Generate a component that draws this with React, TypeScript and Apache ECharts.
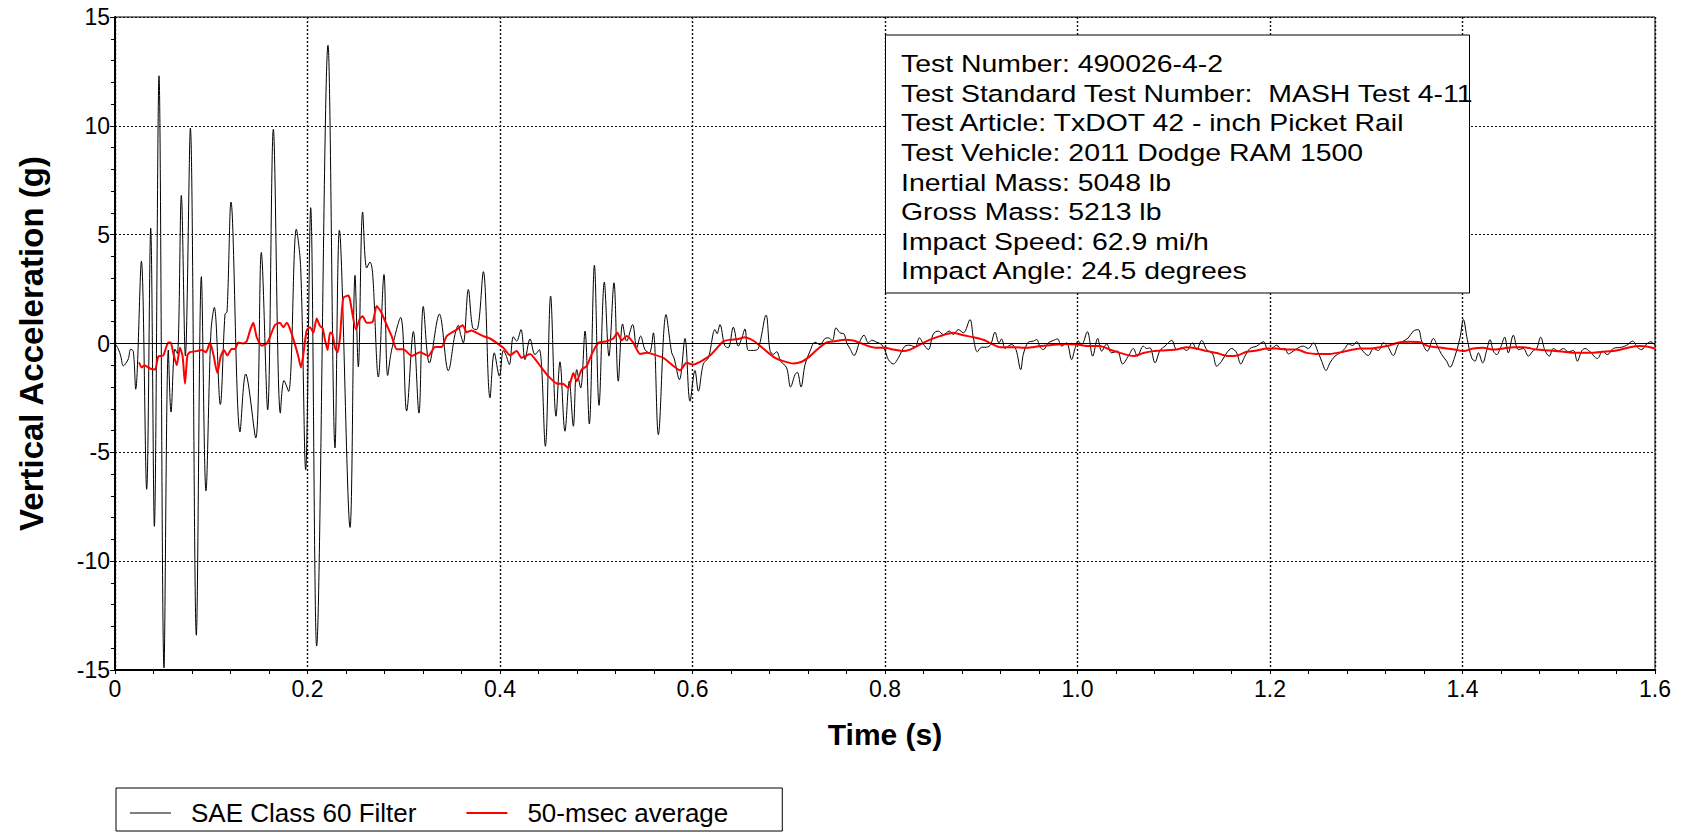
import React, { useEffect, useRef } from "react";
import * as echarts from "echarts";

const FONT = '"Liberation Sans", Arial, Helvetica, sans-serif';

// ---- SAE Class 60 filtered vertical acceleration (time s, accel g) ----
const sae60Part1: [number, number][] = [
  [0, 0], [0.0035, -0.26], [0.0059, -0.57], [0.0087, -1.03], [0.0114, -0.9], [0.0139, -0.7],
  [0.0163, -0.26], [0.019, -0.36], [0.0215, -2.1], [0.0274, 3.78], [0.0329, -6.7], [0.0371, 5.3],
  [0.0409, -8.4], [0.0457, 12.3], [0.0509, -14.9], [0.0554, -0.3], [0.0582, -3.15], [0.0623, -0.26],
  [0.0648, -0.46], [0.0689, 6.8], [0.0731, -0.57], [0.0783, 9.9], [0.0845, -13.4], [0.0897, 3.07],
  [0.0945, -6.77], [0.0997, 0.55], [0.1032, 1.66], [0.1094, -2.8], [0.1143, 1.35], [0.1164, 1.45],
  [0.1205, 6.5],
];
const sae60Part2: [number, number][] = [
  [0.1299, -4.06], [0.1358, -1.4], [0.1462, -4.34], [0.152, 4.18], [0.1586, -3.05], [0.1645, 9.84],
  [0.1718, -3.2], [0.1756, -1.7], [0.1804, -2.2], [0.1884, 5.25], [0.1929, 3.5], [0.1981, -5.8],
  [0.2033, 6.24], [0.2095, -13.9], [0.2213, 13.7], [0.2286, -4.8], [0.2331, 5.2], [0.2442, -8.45],
  [0.2494, 3.13], [0.2528, -1.07], [0.2573, 6.04], [0.2615, 3.47], [0.2649, 3.74], [0.2677, 3.2],
  [0.2736, -1.54], [0.2795, 3.17], [0.2833, -1.47], [0.2874, -0.3], [0.2968, 1.2], [0.303, -3.1],
  [0.31, 0.55], [0.3158, -3.2], [0.3203, 1.7], [0.3266, -0.9], [0.337, 1.35], [0.3463, -1.25],
];
const sae60Part3: [number, number][] = [
  [0.3532, 0.41], [0.3567, 0.84], [0.3591, 0.41], [0.3619, 0.03], [0.3671, 2.48], [0.3716, 0.72],
  [0.3758, 0.64], [0.3827, 3.3], [0.3896, -2.5], [0.3941, -0.43], [0.3994, -1.5], [0.4035, -0.32],
  [0.4063, -0.54], [0.4097, -0.97], [0.4139, 0.31], [0.4173, 0.11], [0.4218, 0.64], [0.426, -0.74],
  [0.4312, 0.21], [0.4364, -0.51], [0.4409, -0.28], [0.4471, -4.72], [0.4526, 2.18], [0.4582, -3.34],
  [0.4623, -0.84], [0.4675, -4.03], [0.472, -1.73], [0.4762, -3.8], [0.4797, -1.2], [0.4838, -2.04],
  [0.4883, 0.57], [0.4928, -3.7], [0.4981, 3.6], [0.5029, -2.84], [0.5084, 2.82], [0.5132, -0.58],
  [0.5184, 2.79], [0.5229, -1.73], [0.5274, 0.9], [0.5316, 0.11], [0.5378, 0.87], [0.542, -0.2],
  [0.5461, 0.34], [0.5506, -0.28], [0.5552, -0.43], [0.5593, 0.49], [0.5645, -4.19], [0.5725, 1.33],
  [0.5784, -0.43], [0.5808, -0.66], [0.5864, -1.66], [0.5922, 0.23], [0.5974, -2.65], [0.6026, -1.24],
  [0.6061, -2.19],
];
const sae60Part4: [number, number][] = [
  [0.6113, -0.93], [0.6165, -0.66], [0.6234, 0.64], [0.6255, 0.45], [0.6285, 0.87], [0.6335, -0.1],
  [0.6372, -0.2], [0.6424, 0.75], [0.6476, -0.12], [0.6511, 0.23], [0.6545, 0.67], [0.658, -0.32],
  [0.6632, -0.32], [0.6684, -0.23], [0.6764, 1.3], [0.6805, -0.32], [0.684, -0.5], [0.6874, -0.38],
  [0.6916, -0.81], [0.6978, -1.12], [0.7019, -2.0], [0.7065, -1.43], [0.7089, -1.32], [0.7127, -2.0],
  [0.7169, -0.97], [0.7221, -0.35], [0.7273, 0.06], [0.7325, -0.05], [0.7377, 0.23], [0.7411, 0.26],
  [0.7453, 0.14], [0.7491, 0.72], [0.7532, 0.49], [0.7574, 0.44], [0.7602, 0.03], [0.7636, -0.23],
  [0.7678, -0.55], [0.774, 0.11], [0.7782, 0.38], [0.7827, 0.03], [0.7861, 0.15], [0.7913, 0.06],
  [0.7965, -0.05], [0.8, -0.32], [0.8035, -0.74], [0.8087, -0.94], [0.8139, -0.66], [0.8208, -0.12],
  [0.826, -0.08], [0.8312, -0.17], [0.8357, 0.26], [0.8398, -0.02], [0.845, -0.28], [0.8502, 0.44],
  [0.8554, 0.57], [0.8606, 0.41], [0.8669, 0.57], [0.871, 0.41], [0.8762, 0.64], [0.8814, 0.49],
  [0.8883, 1.1], [0.8918, 0.26], [0.896, -0.38], [0.9004, -0.17], [0.9056, -0.17], [0.9098, -0.05],
  [0.9143, 0.52], [0.9184, 0.03], [0.9212, 0.21], [0.9247, -0.23], [0.9281, -0.12], [0.9316, -0.05],
  [0.9361, -0.28], [0.941, -1.2], [0.9437, -0.5], [0.9489, 0.06],
];
const sae60Part5: [number, number][] = [
  [0.9541, 0.11], [0.9576, 0.18], [0.9611, -0.17], [0.9645, -0.28], [0.9697, 0.03], [0.9749, 0.14],
  [0.9791, 0.21], [0.9836, -0.12], [0.9887, 0.03], [0.9939, -0.74], [0.9974, -0.23], [1.0009, 0.11],
  [1.0043, -0.05], [1.0102, 0.54], [1.0158, -0.58], [1.021, 0.23], [1.0251, -0.35], [1.0303, -0.02],
  [1.0355, -0.43], [1.0414, -0.35], [1.0469, -0.94], [1.0528, -0.58], [1.058, -0.23], [1.0622, -0.58],
  [1.0684, -0.12], [1.0719, -0.23], [1.0753, -0.2], [1.0805, -0.89], [1.0857, -0.32], [1.0909, -0.12],
  [1.0979, 0.14], [1.103, -0.28], [1.1082, -0.2], [1.1134, -0.32], [1.1193, 0.03], [1.1238, -0.28],
  [1.129, 0.14], [1.1342, -0.28], [1.1404, -0.48], [1.1446, -1.04], [1.1498, -0.81], [1.155, -0.43],
  [1.1602, -0.23], [1.1654, -0.43], [1.1696, -0.94], [1.174, -0.58], [1.1792, -0.23], [1.1861, -0.12],
  [1.1931, 0.08], [1.1983, -0.32], [1.2035, -0.17], [1.2069, -0.08], [1.2121, -0.28], [1.2156, -0.23],
  [1.219, -0.48], [1.2242, -0.35], [1.2305, -0.17], [1.2346, -0.12], [1.2398, -0.23], [1.245, 0.03],
  [1.2502, -0.43], [1.2537, -0.81], [1.2582, -1.24], [1.2623, -0.89], [1.2675, -0.58], [1.2727, -0.43],
  [1.2779, -0.23], [1.2814, -0.02], [1.2859, -0.09], [1.29, 0.08],
];
const sae60Part6: [number, number][] = [
  [1.2952, -0.28], [1.3022, -0.55], [1.3074, -0.23], [1.3126, -0.32], [1.3178, 0.03], [1.3222, -0.12],
  [1.3281, -0.55], [1.3333, -0.05], [1.3385, 0.11], [1.3437, 0.26], [1.3489, 0.57], [1.3541, 0.64],
  [1.3576, 0.11], [1.3635, -0.35], [1.3697, 0.23], [1.3739, -0.12], [1.3784, -0.51], [1.3835, -0.81],
  [1.387, -1.09], [1.3922, -0.58], [1.3974, 0.26], [1.4009, 1.1], [1.405, 0.18], [1.4095, -0.66],
  [1.413, -0.81], [1.4165, -0.43], [1.421, -0.89], [1.4251, -0.32], [1.4286, 0.18], [1.432, -0.35],
  [1.4355, -0.51], [1.4397, -0.17], [1.4438, 0.29], [1.4476, -0.43], [1.4528, 0.38], [1.458, -0.28],
  [1.4632, -0.23], [1.4684, -0.58], [1.4736, -0.32], [1.4771, -0.23], [1.4812, 0.29], [1.4857, -0.32],
  [1.4902, -0.58], [1.4944, -0.23], [1.4996, -0.35], [1.5048, -0.23], [1.51, -0.38], [1.5152, -0.32],
  [1.5193, -0.81], [1.5238, -0.35], [1.5273, -0.23], [1.5325, -0.38], [1.5401, -0.69], [1.5457, -0.35],
  [1.5505, -0.51], [1.5567, -0.23], [1.5654, -0.17], [1.5706, -0.08], [1.5768, 0.11], [1.5816, -0.17],
  [1.5861, -0.28], [1.5913, -0.02], [1.5958, 0.08], [1.6, -0.09],
];

// ---- 50-msec moving average (time s, accel g) ----
const avgPart1: [number, number][] = [
  [0.0249, -0.87], [0.0277, -1.1], [0.0305, -1.0], [0.0364, -1.15], [0.0416, -1.2], [0.045, -0.6],
  [0.0502, -0.55], [0.0554, 0.05], [0.0578, 0.05], [0.0606, -0.45], [0.0641, -1.0], [0.0675, -0.2],
  [0.0703, -0.6], [0.0727, -1.85], [0.0752, -0.55], [0.0779, -0.4], [0.0848, -0.35], [0.09, -0.3],
  [0.0945, -0.4], [0.0987, 0.05], [0.1022, -0.5], [0.1063, -1.35], [0.1098, -0.6], [0.1132, -0.3],
  [0.1167, -0.55], [0.1212, -0.25], [0.1247, -0.25], [0.1281, 0.05], [0.1333, 0.0], [0.1368, 0.1],
  [0.1403, 0.6], [0.1437, 0.95], [0.1472, 0.3], [0.1524, -0.1], [0.1576, 0.0], [0.161, 0.3],
  [0.1662, 0.85], [0.1714, 0.95], [0.1749, 0.75], [0.1784, 0.95], [0.1811, 0.75], [0.1853, 0.2],
  [0.1905, -0.6], [0.1932, -1.1], [0.1957, -0.5], [0.1991, 0.6], [0.2026, 0.75], [0.2061, 0.5],
  [0.2095, 1.15], [0.213, 0.8], [0.2158, 0.7], [0.2182, 0.15], [0.2209, -0.3], [0.2234, 0.5],
  [0.2258, 0.45], [0.2286, -0.2], [0.2313, -0.4], [0.2338, 0.3], [0.2372, 2.1], [0.2424, 2.2],
];
const avgPart2: [number, number][] = [
  [0.2442, 2.0], [0.2503, 0.65], [0.2545, 1.15], [0.2573, 1.25], [0.2615, 0.95], [0.2677, 1.0],
  [0.2719, 1.72], [0.2764, 1.45], [0.2823, 0.85], [0.2874, 0.34], [0.2926, -0.26], [0.2996, -0.26],
  [0.3082, -0.57], [0.3169, -0.4], [0.3255, -0.57], [0.3325, -0.16], [0.3394, -0.16], [0.3446, 0.34],
  [0.355, 0.64], [0.3612, 0.84], [0.3654, 0.52], [0.3706, 0.6], [0.3758, 0.49], [0.3827, 0.34],
  [0.3896, 0.23], [0.3965, 0.03], [0.4035, -0.2], [0.4104, -0.54], [0.4173, -0.35], [0.4225, -0.66],
  [0.4312, -0.48], [0.4381, -0.81], [0.4433, -1.12], [0.4502, -1.5], [0.4589, -1.84], [0.4658, -1.86],
  [0.471, -2.04], [0.4762, -1.35], [0.4797, -1.73], [0.4848, -1.2], [0.49, -1.04], [0.4952, -0.5],
  [0.5022, 0.03], [0.5108, 0.1], [0.5177, 0.23], [0.5219, 0.49], [0.5264, 0.14], [0.5316, 0.34],
  [0.5385, 0.03], [0.5455, -0.48], [0.5524, -0.43], [0.5593, -0.5], [0.5697, -0.66], [0.5784, -0.97],
  [0.587, -1.23], [0.5939, -0.89], [0.6009, -0.97], [0.6078, -0.84],
];
const avgPart3: [number, number][] = [
  [0.6147, -0.66], [0.6199, -0.48], [0.6251, -0.23], [0.632, 0.1], [0.639, 0.17], [0.6476, 0.21],
  [0.6545, 0.29], [0.6597, 0.21], [0.6649, 0.08], [0.6719, -0.17], [0.6788, -0.43], [0.6857, -0.66],
  [0.6944, -0.81], [0.7048, -0.92], [0.7134, -0.84], [0.7221, -0.58], [0.7307, -0.23], [0.7394, 0.05],
  [0.7481, 0.1], [0.7584, 0.17], [0.7671, 0.14], [0.774, 0.03], [0.7827, -0.12], [0.7913, -0.2],
  [0.8, -0.2], [0.8087, -0.28], [0.8191, -0.35], [0.826, -0.28], [0.8364, -0.05], [0.8468, 0.18],
  [0.8571, 0.34], [0.871, 0.49], [0.8814, 0.38], [0.8918, 0.29], [0.9022, 0.17], [0.9126, -0.05],
  [0.9195, -0.17], [0.9333, -0.17], [0.9472, -0.2], [0.961, -0.12], [0.9714, -0.08], [0.9853, -0.02],
  [0.9991, -0.05], [1.013, -0.12], [1.0234, -0.12], [1.0338, -0.28], [1.0442, -0.43], [1.058, -0.58],
  [1.0684, -0.44], [1.0788, -0.35], [1.0892, -0.32], [1.103, -0.28], [1.1134, -0.17], [1.1238, -0.23],
  [1.1342, -0.35], [1.1446, -0.44], [1.1567, -0.58], [1.1671, -0.54], [1.1758, -0.38], [1.1862, -0.32],
  [1.1965, -0.23], [1.2069, -0.23], [1.2173, -0.28], [1.2277, -0.28], [1.2381, -0.43], [1.2485, -0.48],
  [1.2623, -0.48], [1.2762, -0.38], [1.2866, -0.28],
];
const avgPart4: [number, number][] = [
  [1.2935, -0.23], [1.3039, -0.23], [1.3143, -0.17], [1.3247, -0.08], [1.3351, 0.06], [1.3455, 0.08],
  [1.3559, 0.06], [1.3645, -0.12], [1.3732, -0.17], [1.3836, -0.23], [1.3922, -0.28], [1.4009, -0.35],
  [1.4113, -0.23], [1.4217, -0.2], [1.432, -0.28], [1.4424, -0.23], [1.4528, -0.17], [1.4632, -0.17],
  [1.4771, -0.28], [1.4909, -0.32], [1.5048, -0.38], [1.5186, -0.43], [1.5325, -0.43], [1.5463, -0.38],
  [1.5602, -0.32], [1.574, -0.17], [1.5844, -0.12], [1.5948, -0.17], [1.6, -0.23],
];

const seriesNames = ["SAE Class 60 Filter", "50-msec average"];

const infoLines = [
  "Test Number: 490026-4-2",
  "Test Standard Test Number:  MASH Test 4-11",
  "Test Article: TxDOT 42 - inch Picket Rail",
  "Test Vehicle: 2011 Dodge RAM 1500",
  "Inertial Mass: 5048 lb",
  "Gross Mass: 5213 lb",
  "Impact Speed: 62.9 mi/h",
  "Impact Angle: 24.5 degrees",
];

export default function App() {
  const ref = useRef<HTMLDivElement>(null);

  useEffect(() => {
    if (!ref.current) return;
    const chart = echarts.init(ref.current, null, { renderer: "svg" });

    const sae60 = [
      ...sae60Part1, ...sae60Part2, ...sae60Part3,
      ...sae60Part4, ...sae60Part5, ...sae60Part6,
    ];
    const avg50 = [...avgPart1, ...avgPart2, ...avgPart3, ...avgPart4];

    chart.setOption({
      animation: false,
      backgroundColor: "#ffffff",
      textStyle: { fontFamily: FONT },
      grid: {
        left: 115,
        right: 33,
        top: 17,
        bottom: 165,
        show: true,
        borderColor: "#000",
        borderWidth: 1,
        backgroundColor: "transparent",
      },
      legend: {
        left: 116,
        top: 788,
        data: [
          { name: seriesNames[0], icon: "path://M0,0H40V1H0Z" },
          { name: seriesNames[1], icon: "path://M0,0H20V1H0Z" },
        ],
        itemWidth: 41,
        itemHeight: 14,
        itemGap: 50,
        padding: [12, 54, 5, 14],
        borderColor: "#000",
        borderWidth: 1,
        borderRadius: 0,
        textStyle: {
          fontFamily: FONT,
          fontSize: 26,
          color: "#000",
          lineHeight: 26,
          padding: [0, 0, 0, 15],
        },
      },
      xAxis: {
        type: "value",
        min: 0,
        max: 1.6,
        interval: 0.2,
        name: "Time (s)",
        nameLocation: "middle",
        nameGap: 49,
        nameTextStyle: { fontFamily: FONT, fontSize: 30, fontWeight: "bold", color: "#000" },
        axisLine: { show: true, onZero: false, lineStyle: { color: "#000", width: 2 } },
        axisTick: { show: true, length: 4, lineStyle: { color: "#000" } },
        minorTick: { show: true, splitNumber: 5, length: 4, lineStyle: { color: "#000" } },
        axisLabel: {
          fontFamily: FONT,
          fontSize: 23,
          color: "#000",
          margin: 7,
          formatter: (v: number) => (v === 0 ? "0" : v.toFixed(1)),
        },
        splitLine: { show: true, lineStyle: { color: "#111", type: [2, 2], width: 1.4 } },
      },
      yAxis: {
        type: "value",
        min: -15,
        max: 15,
        interval: 5,
        name: "Vertical Acceleration (g)",
        nameLocation: "middle",
        nameRotate: 90,
        nameGap: 67,
        nameTextStyle: { fontFamily: FONT, fontSize: 33, fontWeight: "bold", color: "#000" },
        axisLine: { show: true, onZero: false, lineStyle: { color: "#000", width: 2 } },
        axisTick: { show: true, length: 5, lineStyle: { color: "#000" } },
        minorTick: { show: true, splitNumber: 5, length: 4, lineStyle: { color: "#000" } },
        axisLabel: { fontFamily: FONT, fontSize: 23, color: "#000", margin: 5 },
        splitLine: { show: true, lineStyle: { color: "#111", type: [2, 2], width: 1 } },
      },
      series: [
        {
          name: seriesNames[0],
          type: "line",
          data: sae60,
          symbol: "none",
          showSymbol: false,
          smooth: 0.35,
          lineStyle: { color: "#000", width: 1 },
          itemStyle: { color: "#000" },
          z: 2,
          markLine: {
            silent: true,
            symbol: ["none", "none"],
            label: { show: false },
            lineStyle: { color: "#000", type: "solid", width: 1 },
            data: [{ yAxis: 0 }],
          },
        },
        {
          name: seriesNames[1],
          type: "line",
          data: avg50,
          symbol: "none",
          showSymbol: false,
          smooth: 0.2,
          lineStyle: { color: "#ff0000", width: 2 },
          itemStyle: { color: "#ff0000" },
          z: 3,
        },
      ],
      graphic: [
        {
          type: "rect",
          shape: { x: 885.5, y: 35, width: 584, height: 258 },
          style: { fill: "#fff", stroke: "#000", lineWidth: 1 },
          z: 100,
        },
        {
          type: "text",
          x: 901,
          y: 49,
          scaleX: 1.16,
          z: 101,
          style: {
            text: infoLines.join("\n"),
            fontFamily: FONT,
            fontSize: 24.5,
            fill: "#000",
            lineHeight: 29.6,
            align: "left",
            verticalAlign: "top",
          },
        },
      ],
    });

    return () => chart.dispose();
  }, []);

  return (
    <div
      ref={ref}
      style={{ position: "absolute", left: 0, top: 0, width: 1688, height: 835, background: "#fff" }}
    />
  );
}
